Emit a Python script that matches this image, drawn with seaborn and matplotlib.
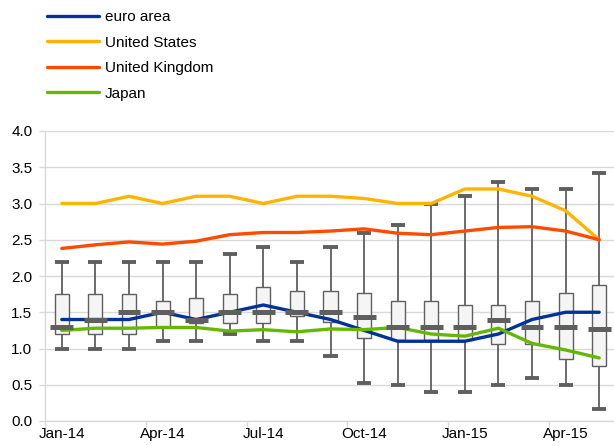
import numpy as np
import pandas as pd
import matplotlib
matplotlib.use("Agg")
import matplotlib.pyplot as plt
import seaborn as sns

months = ["Jan-14", "Feb-14", "Mar-14", "Apr-14", "May-14", "Jun-14", "Jul-14",
          "Aug-14", "Sep-14", "Oct-14", "Nov-14", "Dec-14", "Jan-15", "Feb-15",
          "Mar-15", "Apr-15", "May-15"]
tick_labels = ["Jan-14", "Apr-14", "Jul-14", "Oct-14", "Jan-15", "Apr-15"]

# five-number summaries of the distribution per month
low = [1.0, 1.0, 1.0, 1.1, 1.1, 1.2, 1.1, 1.1, 0.9, 0.53, 0.5, 0.4, 0.4, 0.5, 0.6, 0.5, 0.17]
q1 = [1.2, 1.2, 1.2, 1.3, 1.35, 1.35, 1.35, 1.45, 1.37, 1.15, 1.12, 1.12, 1.12, 1.06, 1.06, 0.86, 0.76]
median = [1.3, 1.4, 1.5, 1.5, 1.4, 1.5, 1.5, 1.5, 1.5, 1.43, 1.3, 1.3, 1.3, 1.4, 1.3, 1.3, 1.27]
q3 = [1.75, 1.75, 1.75, 1.65, 1.7, 1.75, 1.85, 1.8, 1.8, 1.77, 1.65, 1.65, 1.6, 1.6, 1.65, 1.77, 1.88]
high = [2.2, 2.2, 2.2, 2.2, 2.2, 2.3, 2.4, 2.2, 2.4, 2.6, 2.7, 3.0, 3.1, 3.3, 3.2, 3.2, 3.42]

series_names = ["euro area", "United States", "United Kingdom", "Japan"]
euro_area = [1.4, 1.4, 1.4, 1.5, 1.4, 1.5, 1.6, 1.5, 1.4, 1.25, 1.1, 1.1, 1.1, 1.2, 1.4, 1.5, 1.5]
united_states = [3.0, 3.0, 3.1, 3.0, 3.1, 3.1, 3.0, 3.1, 3.1, 3.07, 3.0, 3.0, 3.2, 3.2, 3.1, 2.9, 2.5]
united_kingdom = [2.38, 2.43, 2.47, 2.44, 2.48, 2.57, 2.6, 2.6, 2.62, 2.65, 2.59, 2.57, 2.62, 2.67, 2.68, 2.62, 2.5]
japan = [1.25, 1.28, 1.28, 1.29, 1.29, 1.24, 1.26, 1.23, 1.27, 1.26, 1.29, 1.2, 1.17, 1.28, 1.07, 0.98, 0.87]
colors = ["#003299", "#FFB400", "#FF4B00", "#65B800"]

sns.set_theme(style="white")
plt.rcParams["font.family"] = ["Liberation Sans", "DejaVu Sans"]
plt.rcParams["font.size"] = 11

# long-form data for boxplot: the five summary values per month
box_rows = []
for i, m in enumerate(months):
    for v in (low[i], q1[i], median[i], q3[i], high[i]):
        box_rows.append({"month": m, "value": v})
box_df = pd.DataFrame(box_rows)

line_rows = []
for name, vals in zip(series_names, [euro_area, united_states, united_kingdom, japan]):
    for i, v in enumerate(vals):
        line_rows.append({"pos": i, "value": v, "series": name})
line_df = pd.DataFrame(line_rows)

fig = plt.figure(figsize=(6.14, 4.46), dpi=100)
ax = fig.add_axes([45 / 614, 25 / 446, 571 / 614, 290 / 446])

edge = "#5f5f5f"
box_w = 0.42
sns.boxplot(data=box_df, x="month", y="value", order=months, whis=(0, 100),
            width=box_w, color="#f5f5f5", saturation=1, linecolor=edge, linewidth=1.0,
            capwidths=box_w,
            whiskerprops=dict(linewidth=1.3, color=edge),
            capprops=dict(linewidth=2.8, color=edge, solid_capstyle="butt"),
            medianprops=dict(linewidth=3.6, color=edge, solid_capstyle="butt", zorder=5),
            ax=ax, zorder=2)

# widen the median bars beyond the box, as in the reference style
med_w = 0.68
for cont in ax.containers:
    if hasattr(cont, "medians"):
        for ln in cont.medians:
            xd = np.asarray(ln.get_xdata(), dtype=float)
            c = xd.mean()
            ln.set_xdata([c - med_w / 2, c + med_w / 2])
            ln.set_zorder(5)

sns.lineplot(data=line_df, x="pos", y="value", hue="series", hue_order=series_names,
             palette=colors, linewidth=2.4, ax=ax, zorder=3)

handles, labels = ax.get_legend_handles_labels()
ax.get_legend().remove()
fig.legend(handles, labels, loc="upper left", bbox_to_anchor=(47 / 614, 1 - 10 / 446),
           frameon=False, fontsize=11, handlelength=3.4, handletextpad=0.4,
           labelspacing=0.76, borderpad=0, borderaxespad=0, labelcolor="#000000")

ax.set_xlim(-0.5, 16.5)
ax.set_ylim(0, 4.0)
ax.set_yticks(np.arange(0, 4.01, 0.5))
ax.set_yticklabels([f"{v:.1f}" for v in np.arange(0, 4.01, 0.5)])
ax.set_xticks(range(0, 17, 3))
ax.set_xticklabels(tick_labels)
ax.set_xticks(np.arange(-0.5, 16.6, 3), minor=True)
ax.tick_params(axis="x", which="major", length=0, pad=4.5, labelsize=11, labelcolor="#000000")
ax.tick_params(axis="x", which="minor", length=4, width=1, color="#d9d9d9", bottom=True)
ax.tick_params(axis="y", length=4, width=1, color="#d9d9d9", pad=5, labelsize=11,
               left=True, labelcolor="#000000")
ax.set_xlabel("")
ax.set_ylabel("")
ax.yaxis.grid(True, color="#d9d9d9", linewidth=1)
ax.xaxis.grid(False)
ax.set_axisbelow(True)
for s in ["top", "right"]:
    ax.spines[s].set_visible(False)
for s in ["left", "bottom"]:
    ax.spines[s].set_color("#d9d9d9")
    ax.spines[s].set_linewidth(1)

fig.savefig("out.png", dpi=100)
